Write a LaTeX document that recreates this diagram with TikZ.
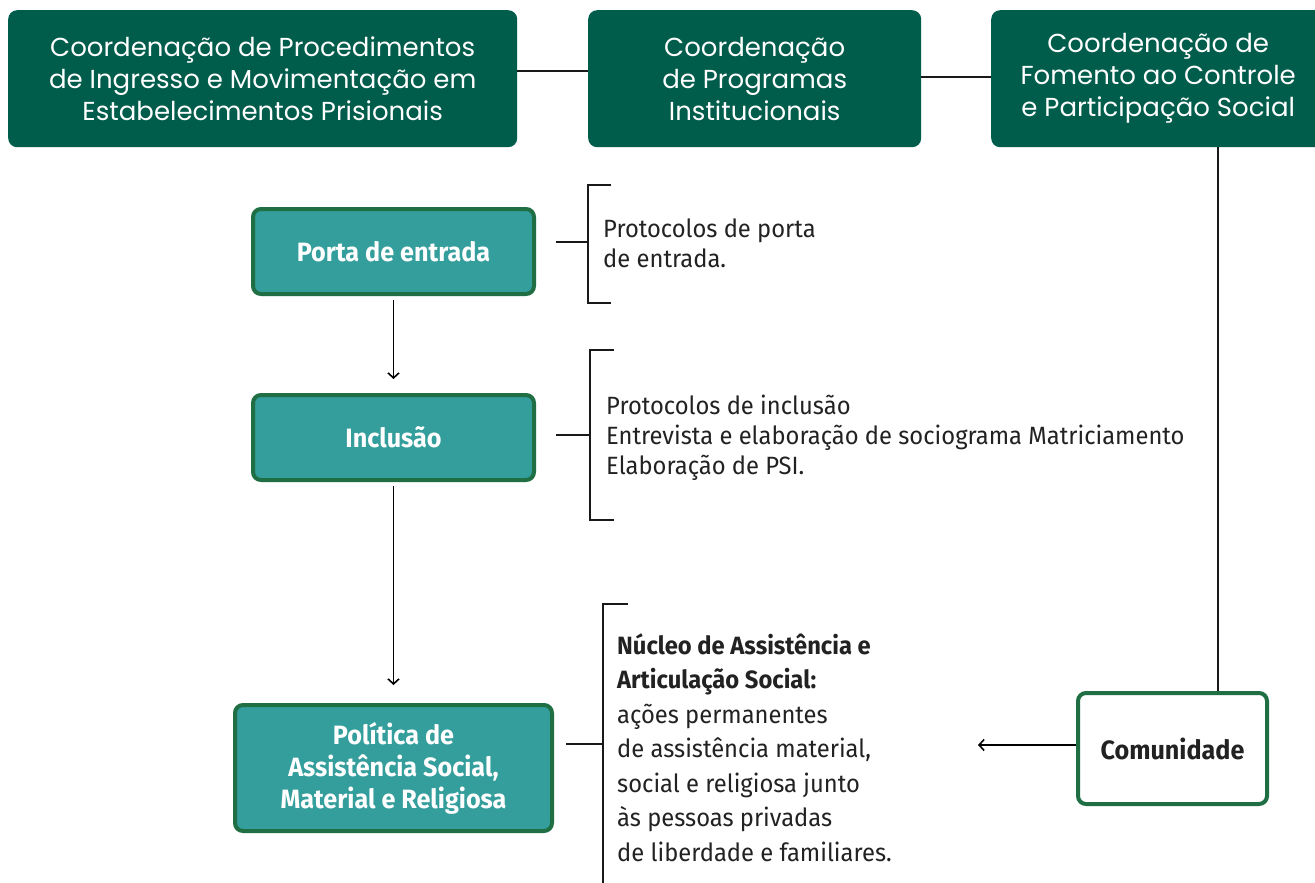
\documentclass[tikz,border=0pt]{standalone}
\usepackage{fontspec}
\setmainfont{Fira Sans}
\newfontfamily\topfont{Poppins}
\newfontfamily\bodyfont[FakeStretch=0.95]{Fira Sans}
\usetikzlibrary{arrows.meta}
\definecolor{dkgreen}{RGB}{0,92,75}
\definecolor{teal}{RGB}{51,158,155}
\definecolor{bordergreen}{RGB}{31,110,68}
\definecolor{txt}{RGB}{34,34,34}
\tikzset{
  x=1pt,y=1pt,
  coord/.style={draw=none,fill=dkgreen,rounded corners=9pt,text=white,align=center,
    font=\topfont\fontsize{26}{32}\selectfont,inner sep=0pt,anchor=north west},
  stage/.style={draw=bordergreen,line width=4pt,fill=teal,rounded corners=8pt,text=white,align=center,
    font=\bodyfont\bfseries\fontsize{26.5}{32}\selectfont,inner sep=0pt,anchor=north west},
  comm/.style={stage,fill=white,text=txt},
  conn/.style={line width=2.5pt,draw=black!90},
  brk/.style={line width=2.5pt,draw=black!90},
  arr/.style={line width=1.6pt,draw=black,-{Straight Barb[length=5pt,width=11pt,line width=1.6pt]}},
  desc/.style={font=\bodyfont\fontsize{25}{30}\selectfont,text=txt,inner sep=0pt,align=left,anchor=base west}
}
\begin{document}
\begin{tikzpicture}
\useasboundingbox[fill=white] (0,0) rectangle (1315,-883);
% top boxes
\node[coord,minimum width=509,minimum height=137] (A) at (8,-10)
  {Coordenação de Procedimentos\\de Ingresso e Movimentação em\\Estabelecimentos Prisionais};
\node[coord,minimum width=333,minimum height=137] (B) at (588,-10)
  {Coordenação\\de Programas\\Institucionais};
\node[coord,minimum width=334,minimum height=137] (C) at (991,-10)
  {Coordenação de\\Fomento ao Controle\\e Participação Social};
\draw[conn] (A.east |- 0,-71) -- (B.west |- 0,-71);
\draw[conn] (B.east |- 0,-77) -- (C.west |- 0,-77);
% stages
\node[stage,minimum width=281,minimum height=85] (P) at (251,-207) {Porta de entrada};
\node[stage,minimum width=281,minimum height=85] (I) at (251,-393) {Inclusão};
\node[stage,minimum width=317,minimum height=126] (S) at (233,-703)
  {Política de\\Assistência Social,\\Material e Religiosa};
\node[comm,minimum width=189,minimum height=111] (K) at (1076,-691) {Comunidade};
\coordinate (Ktop) at (1218,-691);
\draw[conn] (C.south -| Ktop) -- (K.north -| Ktop);
\draw[arr] ([yshift=-4pt]P.south) -- ([yshift=14pt]I.north);
\draw[arr] ([yshift=-4pt]I.south) -- ([yshift=18pt]S.north);
\coordinate (kend) at (978,-745);
\draw[arr] (K.west |- kend) -- (kend);
% bracket 1
\coordinate (b1) at (588,-242);
\draw[conn] ([xshift=20pt]P.east |- b1) -- (b1);
\draw[brk] (611,-185) -- (588,-185) -- (588,-303) -- (611,-303);
\node[desc] (t1) at (603,-267) {Protocolos de porta\\de entrada.};
% bracket 2
\coordinate (b2) at (590,-435);
\draw[conn] ([xshift=20pt]I.east |- b2) -- (b2);
\draw[brk] (614,-350) -- (590,-350) -- (590,-520) -- (614,-520);
\node[desc] (t2) at (606,-474) {Protocolos de inclusão\\Entrevista e elaboração de sociograma Matriciamento\\Elaboração de PSI.};
% bracket 3
\coordinate (b3) at (603,-744);
\draw[conn] ([xshift=12pt]S.east |- b3) -- (b3);
\draw[brk] (628,-604) -- (603,-604) -- (603,-884);
\node[desc,font=\bodyfont\fontsize{25}{34.5}\selectfont] (t3) at (617,-861)
  {\textbf{Núcleo de Assistência e}\\\textbf{Articulação Social:}\\ações permanentes\\de assistência material,\\social e religiosa junto\\às pessoas privadas\\de liberdade e familiares.};
\end{tikzpicture}
\end{document}
